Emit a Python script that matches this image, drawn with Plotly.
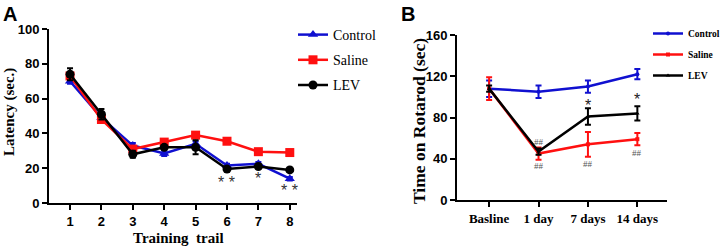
import plotly.graph_objects as go

W, H = 726, 247

# ---------------- Panel A data ----------------
trials = [1, 2, 3, 4, 5, 6, 7, 8]
a_control = [70, 49, 33, 28.5, 34, 21.5, 22.5, 14]
a_control_err = [1.5, 1.5, 1.5, 1.5, 1.5, 1, 1, 1]
a_saline = [73, 48, 31, 35, 39, 35.5, 29.5, 29]
a_saline_err = [1.5, 1.5, 1.5, 1, 1, 1, 1, 1]
a_lev = [74, 51, 28, 32, 32, 19.5, 21, 19]
a_lev_err = [3.5, 3, 2, 1, 4, 1, 1, 1]
a_sig_x = [6, 7, 8]
a_sig_text = ["* *", "*", "* *"]
a_sig_y = [12, 14, 7]

# ---------------- Panel B data ----------------
b_cats = ["Basline", "1 day", "7 days", "14 days"]
b_control = [108, 105, 110, 122]
b_control_err = [8, 6, 6, 5]
b_saline = [108, 45, 54, 59]
b_saline_err = [11, 6, 12, 6]
b_lev = [108, 47, 81, 84]
b_lev_err = [3, 3, 8, 7]
b_hash_x = ["1 day", "1 day", "7 days", "14 days"]
b_hash_y = [56, 33, 35, 46]
b_star_x = ["7 days", "14 days"]
b_star_y = [92, 97]

BLUE = "#1010d0"
RED = "#ff1010"
BLACK = "#000000"
SERIF = "Liberation Serif"
SANS = "Liberation Sans"

def px_x(x):
    return x / W

def px_y(y):
    return 1 - y / H

fig = go.Figure()

def add_series(x, y, err, name, color, symbol, size, xaxis, yaxis, legend, group):
    fig.add_trace(go.Scatter(
        x=x, y=y, name=name, mode="lines+markers",
        line=dict(color=color, width=2.5),
        marker=dict(color=color, symbol=symbol, size=size),
        error_y=dict(type="data", array=err, visible=True, color=color,
                     thickness=2, width=3),
        xaxis=xaxis, yaxis=yaxis, legend=legend, legendgroup=group,
    ))

add_series(trials, a_control, a_control_err, "Control", BLUE, "triangle-up", 9, "x", "y", "legend", "a1")
add_series(trials, a_saline, a_saline_err, "Saline", RED, "square", 9, "x", "y", "legend", "a2")
add_series(trials, a_lev, a_lev_err, "LEV", BLACK, "circle", 9, "x", "y", "legend", "a3")

add_series(b_cats, b_control, b_control_err, "Control", BLUE, "circle", 4, "x2", "y2", "legend2", "b1")
add_series(b_cats, b_saline, b_saline_err, "Saline", RED, "square", 4, "x2", "y2", "legend2", "b2")
add_series(b_cats, b_lev, b_lev_err, "LEV", BLACK, "triangle-up", 4, "x2", "y2", "legend2", "b3")

axis_common = dict(showline=True, linecolor="black", linewidth=2, ticks="outside",
                   ticklen=5, tickwidth=2, tickcolor="black", showgrid=False,
                   zeroline=False, mirror=False)

fig.update_layout(
    width=W, height=H,
    margin=dict(l=0, r=0, t=0, b=0, autoexpand=False),
    paper_bgcolor="white", plot_bgcolor="white",
    xaxis=dict(domain=[px_x(49), px_x(297)], range=[0.33, 8.23], tickvals=trials,
               anchor="y", tickfont=dict(family=SANS, size=13, color="black", weight="bold"),
               **axis_common),
    yaxis=dict(domain=[px_y(203), px_y(29)], range=[0, 100], tickvals=[0, 20, 40, 60, 80, 100],
               anchor="x", tickfont=dict(family=SANS, size=13, color="black", weight="bold"),
               **axis_common),
    xaxis2=dict(domain=[px_x(457), px_x(667)], range=[-0.65, 3.6], type="category",
                anchor="y2", tickfont=dict(family=SERIF, size=13, color="black", weight="bold"),
                **axis_common),
    yaxis2=dict(domain=[px_y(200), px_y(35)], range=[0, 160], tickvals=[0, 40, 80, 120, 160],
                anchor="x2", tickfont=dict(family=SANS, size=13, color="black", weight="bold"),
                **axis_common),
    legend=dict(x=px_x(293), y=px_y(19), xanchor="left", yanchor="top",
                font=dict(family=SERIF, size=14, color="black"),
                bgcolor="rgba(0,0,0,0)", tracegroupgap=4, itemwidth=30,
                traceorder="grouped"),
    legend2=dict(x=px_x(648), y=px_y(19), xanchor="left", yanchor="top",
                 font=dict(family=SERIF, size=9.5, color="black", weight="bold"),
                 bgcolor="rgba(0,0,0,0)", tracegroupgap=2, itemwidth=30,
                 traceorder="grouped"),
    showlegend=True,
)

ann = []
# panel labels
ann.append(dict(text="<b>A</b>", x=px_x(1), y=px_y(1), xref="paper", yref="paper",
                xanchor="left", yanchor="top", showarrow=False,
                font=dict(family=SANS, size=20, color="black")))
ann.append(dict(text="<b>B</b>", x=px_x(399), y=px_y(1), xref="paper", yref="paper",
                xanchor="left", yanchor="top", showarrow=False,
                font=dict(family=SANS, size=20, color="black")))
# axis titles
ann.append(dict(text="<b>Training  trail</b>", x=px_x(178), y=px_y(238), xref="paper", yref="paper",
                xanchor="center", yanchor="middle", showarrow=False,
                font=dict(family=SERIF, size=15, color="black")))
ann.append(dict(text="<b>Latency (sec.)</b>", x=px_x(9), y=px_y(112), xref="paper", yref="paper",
                xanchor="center", yanchor="middle", showarrow=False, textangle=-90,
                font=dict(family=SERIF, size=15, color="black")))
ann.append(dict(text="<b>Time on Rotarod (sec)</b>", x=px_x(419), y=px_y(121), xref="paper", yref="paper",
                xanchor="center", yanchor="middle", showarrow=False, textangle=-90,
                font=dict(family=SERIF, size=17.5, color="black")))
# significance marks A
for xv, yv, t in zip(a_sig_x, a_sig_y, a_sig_text):
    ann.append(dict(text=t, x=xv, y=yv, xref="x", yref="y", showarrow=False,
                    font=dict(family=SANS, size=16, color="#333333")))
# significance marks B
for xv, yv in zip(b_hash_x, b_hash_y):
    ann.append(dict(text="##", x=xv, y=yv, xref="x2", yref="y2", showarrow=False,
                    font=dict(family=SERIF, size=9, color="#555555")))
for xv, yv in zip(b_star_x, b_star_y):
    ann.append(dict(text="*", x=xv, y=yv, xref="x2", yref="y2", showarrow=False,
                    font=dict(family=SANS, size=16, color="#222222")))

fig.update_layout(annotations=ann)
fig.write_html("out.html", config={"displayModeBar": False},
               post_script="document.body.style.margin='0';document.body.style.padding='0';document.body.style.overflow='hidden';")
